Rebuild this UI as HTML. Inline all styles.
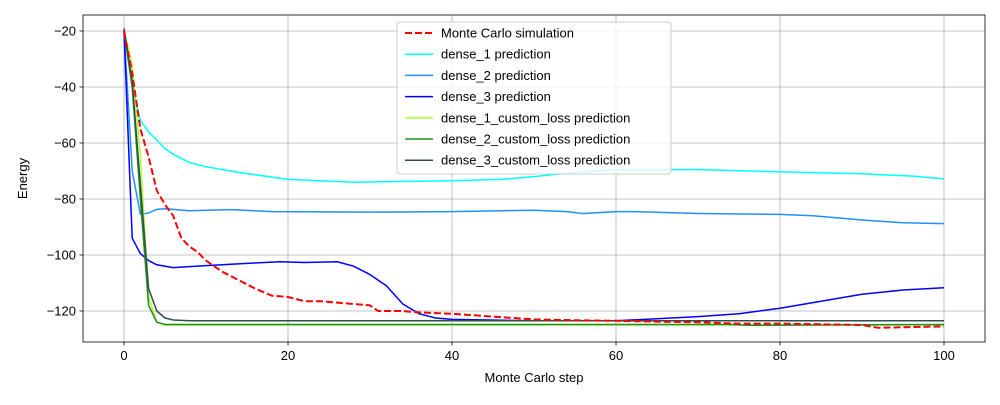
<!DOCTYPE html>
<html><head><meta charset="utf-8"><style>
body{margin:0;background:#fff;font-family:"Liberation Sans",sans-serif}
svg text{font-family:"Liberation Sans",sans-serif;fill:#000}
</style></head><body>
<svg id="c" width="1000" height="400"></svg>
<script>
const mcX=[0,1,2,3,4,5,6,7,8,9,10,12,14,16,18,20,22,24,26,28,30,31,34,36,40,45,50,55,60,65,70,75,80,90,92,95,100];
const mcY=[-20,-35,-55,-65,-77,-82,-86,-94,-97,-99,-102,-106,-109,-112,-114.5,-115,-116.5,-116.5,-117,-117.5,-118,-120,-120,-120.5,-121,-122,-123,-123.3,-123.5,-123.8,-124,-124.5,-124.5,-125,-126,-125.8,-125.5];
const d1X=[0,1,2,3,4,5,6,8,10,14,20,28,35,40,46,50,55,60,70,80,90,96,100];
const d1Y=[-20,-40,-52,-56,-59,-62,-64,-67,-68.5,-70.5,-73,-74,-73.7,-73.5,-73,-72,-70.5,-69.5,-69.5,-70.3,-71,-71.8,-72.8];
const d2X=[0,1,2,3,4,5,8,13,18,30,40,50,54,56,60,62,70,80,84,90,95,100];
const d2Y=[-20,-70,-85.5,-85,-83.7,-83.5,-84.2,-83.8,-84.5,-84.7,-84.5,-84,-84.5,-85.2,-84.5,-84.5,-85.2,-85.5,-86,-87.5,-88.5,-88.8];
const d3X=[0,1,2,3,4,6,10,15,19,22,26,28,30,32,34,36,38,40,50,60,70,75,80,85,90,95,100];
const d3Y=[-20,-94,-99.5,-102,-103.5,-104.5,-103.8,-103,-102.4,-102.7,-102.4,-104,-107,-111,-117.5,-121,-122.5,-123,-123.5,-123.5,-122,-121,-119,-116.5,-114,-112.5,-111.7];
const c1X=[0,1,2,3,4,5,100];
const c1Y=[-20,-32,-65,-115,-124,-125,-125];
const c2X=[0,1,2,3,4,5,74,76,100];
const c2Y=[-20,-40,-80,-118,-124,-124.8,-124.8,-125.1,-124.8];
const c3X=[0,1,2,3,4,5,6,8,100];
const c3Y=[-19,-38,-75,-112,-120,-122.5,-123.2,-123.5,-123.5];
const xTicks=[0,20,40,60,80,100];
const yTicks=[-20,-40,-60,-80,-100,-120];
const names=["Monte Carlo simulation","dense_1 prediction","dense_2 prediction","dense_3 prediction","dense_1_custom_loss prediction","dense_2_custom_loss prediction","dense_3_custom_loss prediction"];

const L=83,R=985,T=15,B=342;
const sx=v=>124+v*8.2;
const sy=v=>31+(-20-v)*2.8;
const svg=document.getElementById('c');
const NS='http://www.w3.org/2000/svg';
function mk(t,a,p){const e=document.createElementNS(NS,t);for(const k in a)e.setAttribute(k,a[k]);(p||svg).appendChild(e);return e;}
const bg=mk('rect',{x:L,y:T,width:R-L,height:B-T,fill:'#fff'});


xTicks.forEach(t=>{const x=sx(t);
 const g=mk('line',{x1:x,x2:x,y1:T,y2:B,stroke:'#b0b0b0','stroke-width':0.8});
 
 
 mk('line',{x1:x,x2:x,y1:B,y2:B+3.5,stroke:'#000','stroke-width':0.8});
 const tx=mk('text',{x:x,y:B+18,'text-anchor':'middle','font-size':13});tx.textContent=t;
 
 
});
yTicks.forEach(t=>{const y=sy(t);
 const g=mk('line',{x1:L,x2:R,y1:y,y2:y,stroke:'#b0b0b0','stroke-width':0.8});
 
 
 mk('line',{x1:L-3.5,x2:L,y1:y,y2:y,stroke:'#000','stroke-width':0.8});
 const tx=mk('text',{x:L-7,y:y+4.5,'text-anchor':'end','font-size':13});tx.textContent='\u2212'+Math.abs(t);
 
 
});
const series=[[mcX,mcY,'#ff0000','mc-simulation-line'],[d1X,d1Y,'#00ffff','dense-1-line'],[d2X,d2Y,'#1e90ff','dense-2-line'],[d3X,d3Y,'#0000ff','dense-3-line'],[c1X,c1Y,'#adff2f','dense-1-custom-line'],[c2X,c2Y,'#228b22','dense-2-custom-line'],[c3X,c3Y,'#2f4f4f','dense-3-custom-line']];
const order=[1,2,3,4,5,6,0];
order.forEach(i=>{const s=series[i];
 const p=mk('polyline',{points:s[0].map((x,j)=>sx(x)+','+sy(s[1][j])).join(' '),fill:'none',stroke:s[2],'stroke-width':i==0?2:1.5,'stroke-dasharray':i==0?'7,3':'none','stroke-linejoin':'round'});
 
 
});
const fr=mk('rect',{x:L,y:T,width:R-L,height:B-T,fill:'none',stroke:'#000','stroke-width':0.8});


const xl=mk('text',{x:(L+R)/2,y:382,'text-anchor':'middle','font-size':13});xl.textContent='Monte Carlo step';


const yl=mk('text',{x:0,y:0,'text-anchor':'middle','font-size':13,transform:'translate(27,'+((T+B)/2)+') rotate(-90)'});yl.textContent='Energy';


const lg=mk('g',{});


mk('rect',{x:397,y:22,width:274,height:152,rx:3,fill:'#fff','fill-opacity':0.8,stroke:'#ccc'},lg);
names.forEach((n,i)=>{const y=33+i*21.2;const s=series[i];
 const en=mk('g',{},lg);
 
 
 mk('line',{x1:405,x2:433,y1:y,y2:y,stroke:s[2],'stroke-width':i==0?2:1.5,'stroke-dasharray':i==0?'7,3':'none'},en);
 const t=mk('text',{x:441,y:y+4.5,'font-size':13},en);t.textContent=n;
});
</script>
</body></html>
